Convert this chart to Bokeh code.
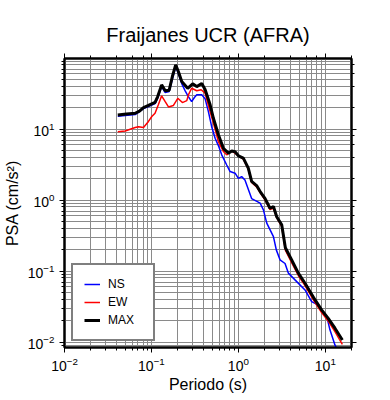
from bokeh.plotting import figure
from bokeh.models import Range1d, LogAxis, Legend, LegendItem, CustomJSTickFormatter
from bokeh.embed import file_html
from bokeh.resources import INLINE

# --- data (period in s, PSA in cm/s^2) ---
ns_period = [0.041, 0.065, 0.081, 0.0924, 0.110, 0.118, 0.131, 0.144, 0.160, 0.190,
             0.204, 0.223, 0.246, 0.266, 0.290, 0.312, 0.332, 0.379, 0.414, 0.452,
             0.493, 0.540, 0.589, 0.643, 0.734, 0.803, 0.916, 1.0, 1.09, 1.19,
             1.42, 1.78, 1.94, 2.12, 2.53, 2.73, 3.01, 3.44, 3.76, 4.48,
             5.84, 6.96, 8.31, 9.48, 10.4, 11.3, 12.9, 14.5]
ns_psa = [15.2, 16.0, 19.4, 20.8, 22.8, 27.3, 39.6, 32.7, 33.8, 75.9,
          60.7, 43.7, 33.8, 28.7, 24.3, 27.8, 30.3, 30.3, 26.8, 17.6,
          10.8, 7.43, 5.85, 4.34, 3.12, 2.52, 2.39, 2.02, 2.14, 1.92,
          1.05, 0.904, 0.728, 0.474, 0.306, 0.199, 0.144, 0.128, 0.0936, 0.0753,
          0.0542, 0.0372, 0.0333, 0.0255, 0.0229, 0.0149, 0.00913, 0.00686]

ew_period = [0.041, 0.0499, 0.065, 0.0709, 0.081, 0.0924, 0.101, 0.110, 0.120, 0.131,
             0.144, 0.157, 0.179, 0.201, 0.227, 0.255, 0.266, 0.290, 0.332, 0.373,
             0.414, 0.473, 0.530, 0.589, 0.672, 0.734, 0.838, 1.0, 1.14, 1.30,
             1.42, 1.62, 1.78, 2.03, 2.31, 2.53, 2.76, 3.15, 3.47, 4.10,
             4.89, 5.84, 7.62, 9.06, 10.8, 12.9, 15.7]
ew_psa = [9.2, 9.37, 10.5, 10.8, 10.5, 12.8, 15.0, 16.7, 22.0, 29.4,
          24.3, 20.5, 21.5, 27.1, 23.6, 25.1, 30.3, 37.5, 34.6, 35.7,
          32.0, 17.6, 10.8, 6.67, 4.84, 4.34, 4.91, 4.24, 3.78, 2.74,
          1.77, 1.53, 1.27, 1.00, 0.736, 0.772, 0.566, 0.425, 0.197, 0.131,
          0.0867, 0.0624, 0.0360, 0.0261, 0.0198, 0.0141, 0.00931]

max_period = [0.041, 0.0516, 0.065, 0.0728, 0.081, 0.0924, 0.110, 0.118, 0.131, 0.144,
              0.160, 0.174, 0.190, 0.204, 0.223, 0.261, 0.298, 0.332, 0.379, 0.414,
              0.473, 0.516, 0.589, 0.672, 0.767, 0.838, 0.916, 1.0, 1.14, 1.30,
              1.42, 1.62, 1.78, 2.03, 2.31, 2.53, 2.76, 3.15, 3.47, 4.10,
              4.89, 5.84, 7.62, 9.06, 10.8, 12.9, 15.7]
max_psa = [15.8, 16.3, 16.7, 17.9, 20.1, 21.5, 23.8, 28.7, 41.9, 34.6,
           35.3, 55.0, 80.3, 64.6, 46.7, 37.5, 43.3, 39.6, 43.7, 36.1,
           22.0, 14.2, 8.32, 5.35, 4.58, 4.91, 4.80, 4.20, 3.89, 2.81,
           1.83, 1.60, 1.32, 1.05, 0.768, 0.812, 0.584, 0.450, 0.213, 0.144,
           0.0936, 0.0674, 0.0393, 0.0285, 0.0216, 0.0157, 0.0107]

FONT = "Liberation Sans"
GRID = "#8a8a8a"

p = figure(frame_width=287, frame_height=289, x_axis_type="log", y_axis_type="log",
           x_range=Range1d(0.01, 20), y_range=Range1d(0.0084, 98.5),
           output_backend="svg", toolbar_location=None,
           min_border_left=63, min_border_right=20, min_border_top=58,
           min_border_bottom=40, background_fill_color="white",
           border_fill_color="white")

p.title.text = "Fraijanes UCR (AFRA)"
p.title.align = "center"
p.title.text_font = FONT
p.title.text_font_size = "20px"
p.title.text_font_style = "normal"
p.title.text_color = "black"
p.title.standoff = 15

p.outline_line_color = "black"
p.outline_line_width = 2

for g in (p.xgrid, p.ygrid):
    g.grid_line_color = GRID
    g.grid_line_width = 1
    g.minor_grid_line_color = GRID
    g.minor_grid_line_width = 1

def style_axis(ax, label_size="14px"):
    ax.axis_line_color = "black"
    ax.axis_line_width = 2
    ax.major_tick_out = 5
    ax.major_tick_in = 0
    ax.minor_tick_out = 3
    ax.minor_tick_in = 0
    ax.major_tick_line_color = "black"
    ax.minor_tick_line_color = "black"
    ax.major_tick_line_width = 1
    ax.minor_tick_line_width = 1
    ax.major_label_text_font = FONT
    ax.major_label_text_font_size = label_size
    ax.major_label_text_color = "black"
    ax.axis_label_text_font = FONT
    ax.axis_label_text_font_size = "16px"
    ax.axis_label_text_font_style = "normal"
    ax.axis_label_text_color = "black"

style_axis(p.xaxis[0])
style_axis(p.yaxis[0])
p.xaxis[0].axis_label = "Periodo (s)"
p.yaxis[0].axis_label = "PSA (cm/s²)"
p.xaxis[0].axis_label_standoff = 2
p.yaxis[0].axis_label_standoff = 4
p.xaxis[0].major_label_standoff = 4
p.yaxis[0].major_label_standoff = 5

ax_top = LogAxis(formatter=CustomJSTickFormatter(code="return '';"))
ax_right = LogAxis(formatter=CustomJSTickFormatter(code="return '';"))
style_axis(ax_top, "1px")
style_axis(ax_right, "1px")
ax_top.major_label_standoff = 0
ax_right.major_label_standoff = 0
p.add_layout(ax_top, "above")
p.add_layout(ax_right, "right")

r_ns = p.line(ns_period, ns_psa, line_color="#0000ff", line_width=1.5)
r_ew = p.line(ew_period, ew_psa, line_color="#ff0000", line_width=1.5)
r_max = p.line(max_period, max_psa, line_color="black", line_width=3)

legend = Legend(items=[LegendItem(label="NS", renderers=[r_ns]),
                       LegendItem(label="EW", renderers=[r_ew]),
                       LegendItem(label="MAX", renderers=[r_max])],
                location=(7, 6))
legend.margin = 0
legend.padding = 11
legend.spacing = 2
legend.glyph_width = 16
legend.glyph_height = 16
legend.label_height = 16
legend.label_standoff = 8
legend.label_text_font = FONT
legend.label_text_font_size = "12px"
legend.label_text_color = "black"
legend.border_line_color = "black"
legend.border_line_width = 2
legend.background_fill_color = "white"
legend.background_fill_alpha = 1
legend.label_width = 34
p.add_layout(legend)

open("out.html", "w").write(file_html(p, INLINE))
